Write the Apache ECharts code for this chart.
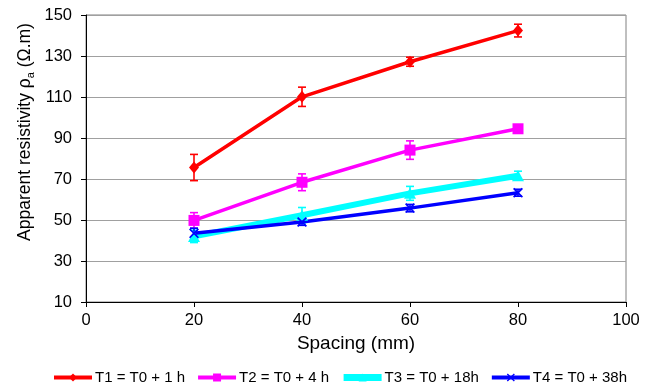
<!DOCTYPE html>
<html>
<head>
<meta charset="utf-8">
<script src="https://cdn.jsdelivr.net/npm/echarts@6/dist/echarts.min.js"></script>
<style>
  html, body { margin: 0; padding: 0; background: #fff; }
  #chart { width: 654px; height: 386px; }
</style>
</head>
<body>
<div id="chart"></div>
<script>
// Electrode spacing (mm)
const spacing = [20, 40, 60, 80];

// Apparent resistivity (Ohm.m) and error half-widths per time step
const t1 = [75.6, 110.1, 127.2, 142.4];
const t1Err = [6.4, 4.7, 2.2, 3.1];
const t2 = [49.8, 68.4, 84.1, 94.5];
const t2Err = [3.8, 4.1, 4.5, 1.0];
const t3 = [42.0, 52.3, 63.0, 71.6];
const t3Err = [3.0, 3.8, 3.4, 2.2];
const t4 = [43.5, 49.0, 55.8, 63.3];
const t4Err = [2.5, 1.6, 1.8, 1.7];

const seriesNames = ['T1 = T0 + 1 h', 'T2 = T0 + 4 h', 'T3 = T0 + 18h', 'T4 = T0 + 38h'];
const colors = ['#ff0000', '#ff00ff', '#00ffff', '#0000ff'];

const xTicks = { min: 0, max: 100, interval: 20 };
const yTicks = { min: 10, max: 150, interval: 20 };

const FONT = 'Liberation Sans, Arial, sans-serif';
const X_SYMBOL = 'path://M0,1.2L1.2,0L5,3.8L8.8,0L10,1.2L6.2,5L10,8.8L8.8,10L5,6.2L1.2,10L0,8.8L3.8,5Z';

const values = [t1, t2, t3, t4];
const errors = [t1Err, t2Err, t3Err, t4Err];
const symbols = ['diamond', 'rect', 'triangle', X_SYMBOL];
const symbolSizes = [[10, 12], 11, [12, 11], 10];
const lineWidths = [3.5, 3.5, 6, 3.5];
const legendLineWidths = [4, 4, 7, 4];

function errorSeries(idx) {
  const data = spacing.map((x, i) => [x, values[idx][i] - errors[idx][i], values[idx][i] + errors[idx][i]]);
  return {
    type: 'custom',
    name: seriesNames[idx] + ' (error)',
    z: 3,
    silent: true,
    data: data,
    encode: { x: 0, y: [1, 2] },
    renderItem: function (params, api) {
      const x = api.value(0);
      const lo = api.coord([x, api.value(1)]);
      const hi = api.coord([x, api.value(2)]);
      const hw = 4;
      const style = { stroke: colors[idx], lineWidth: 1.6, fill: null };
      return {
        type: 'group',
        children: [
          { type: 'line', shape: { x1: lo[0], y1: lo[1], x2: hi[0], y2: hi[1] }, style: style },
          { type: 'line', shape: { x1: lo[0] - hw, y1: lo[1], x2: lo[0] + hw, y2: lo[1] }, style: style },
          { type: 'line', shape: { x1: hi[0] - hw, y1: hi[1], x2: hi[0] + hw, y2: hi[1] }, style: style }
        ]
      };
    }
  };
}

function lineSeries(idx) {
  return {
    type: 'line',
    name: seriesNames[idx],
    z: 4,
    data: spacing.map((x, i) => [x, values[idx][i]]),
    symbol: symbols[idx],
    symbolSize: symbolSizes[idx],
    showAllSymbol: true,
    color: colors[idx],
    itemStyle: { color: colors[idx], borderWidth: 0 },
    lineStyle: { color: colors[idx], width: lineWidths[idx] },
    animation: false
  };
}

const series = [];
for (let i = 0; i < 4; i++) {
  series.push(errorSeries(i));
  series.push(lineSeries(i));
}

const chart = echarts.init(document.getElementById('chart'), null, { renderer: 'canvas' });
chart.setOption({
  animation: false,
  backgroundColor: '#ffffff',
  textStyle: { fontFamily: FONT },
  grid: {
    left: 86, right: 28, top: 15, bottom: 84,
    show: true, borderColor: '#808080', borderWidth: 1
  },
  xAxis: {
    type: 'value',
    min: xTicks.min, max: xTicks.max, interval: xTicks.interval,
    name: 'Spacing (mm)',
    nameLocation: 'middle',
    nameGap: 32,
    nameTextStyle: { fontSize: 19, color: '#000', fontFamily: FONT },
    axisLine: { lineStyle: { color: '#000', width: 1 } },
    axisTick: { show: true, length: 5, lineStyle: { color: '#000' } },
    axisLabel: { fontSize: 16.5, color: '#000', margin: 10, fontFamily: FONT },
    splitLine: { show: false }
  },
  yAxis: {
    type: 'value',
    min: yTicks.min, max: yTicks.max, interval: yTicks.interval,
    axisLine: { show: true, lineStyle: { color: '#000', width: 1 } },
    axisTick: { show: true, length: 5, lineStyle: { color: '#000' } },
    axisLabel: { fontSize: 16.5, color: '#000', margin: 14, fontFamily: FONT },
    splitLine: { show: true, lineStyle: { color: '#a0a0a0', width: 1 } }
  },
  legend: {
    left: 47,
    top: 365,
    itemWidth: 38,
    itemHeight: 10,
    itemGap: 11,
    textStyle: { fontSize: 15, color: '#000', fontFamily: FONT, padding: [0, 0, 0, -2] },
    data: seriesNames.map((n, i) => ({ name: n, lineStyle: { width: legendLineWidths[i] } })),
    selectedMode: false
  },
  graphic: [{
    type: 'text',
    x: 25,
    y: 132,
    rotation: Math.PI / 2,
    style: {
      text: 'Apparent resistivity ρ{s|a} (Ω.m)',
      fontFamily: FONT,
      fontSize: 17.5,
      fill: '#000',
      align: 'center',
      verticalAlign: 'middle',
      rich: {
        s: { fontSize: 11, fontFamily: FONT, fill: '#000', verticalAlign: 'bottom', lineHeight: 22, padding: [8, 0, 0, 0] }
      }
    }
  }],
  series: series
});
</script>
</body>
</html>
